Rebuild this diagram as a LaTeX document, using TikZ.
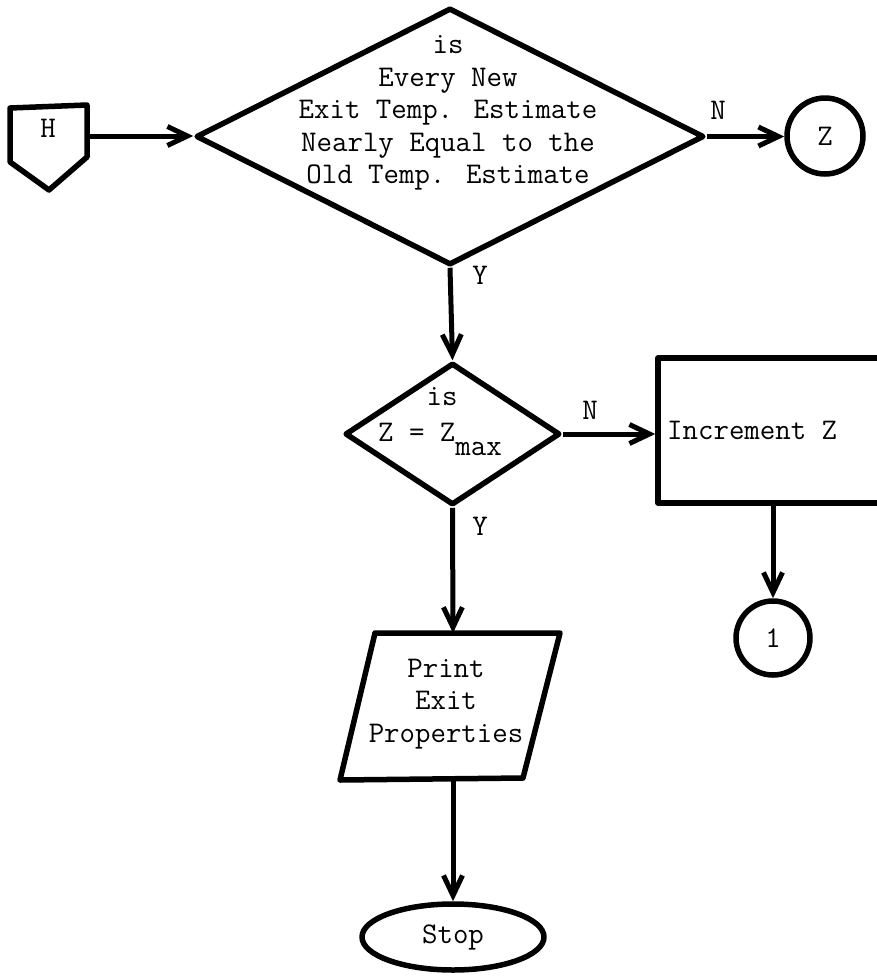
\documentclass[tikz,border=0pt]{standalone}
\usetikzlibrary{shapes.geometric,arrows.meta}
\tikzset{
  every node/.style={font=\ttfamily\fontsize{30}{32.5}\selectfont},
  shapeline/.style={draw, line width=5.5pt, inner sep=0pt},
  flow/.style={line width=5pt, -{Straight Barb[length=20pt,width=19pt]}},
  txt/.style={align=center, inner sep=0pt},
  lbl/.style={inner sep=0pt}
}
\begin{document}
\begin{tikzpicture}[x=1pt,y=-1pt, line join=round]
\useasboundingbox (0,0) rectangle (877,978);
\clip (0,0) rectangle (877,978);
\fill[white] (0,0) rectangle (877,978);

% off-page connector H
\draw[line width=5.5pt] (10,108) -- (87,105) -- (87,157) -- (49,190) -- (10,162) -- cycle;
\node[lbl] (h) at (48,128) {H};
\coordinate (hout) at (87,136);

% first decision
\node[shapeline, diamond, minimum width=508pt, minimum height=257pt] (d1) at (450,136.5) {};
\node[txt] (d1t) at (448,113) {is\\Every New\\Exit Temp. Estimate\\Nearly Equal to the\\Old Temp. Estimate};

% connector Z
\node[shapeline, circle, minimum size=76pt] (cz) at (825,136) {};
\node[lbl] at (cz) {Z};

% second decision
\node[shapeline, diamond, minimum width=215pt, minimum height=142pt] (d2) at (452.5,434) {};
\node[txt] (d2a) at (442,397) {is};
\node[lbl, anchor=base west] (d2b) at (378,441) {Z = Z\raisebox{-14pt}{max}};

% increment box (runs past the right edge)
\node[shapeline, rectangle, minimum width=300pt, minimum height=145pt] (inc) at (808,430.5) {};
\node[lbl, anchor=west] (inct) at (667,430) {Increment Z};
\coordinate (incb) at (773,503);

% connector 1
\node[shapeline, circle, minimum size=74pt] (c1) at (773,638) {};
\node[lbl] at (c1) {1};

% output parallelogram
\draw[line width=5.5pt] (375,633) -- (560,633) -- (523,778) -- (340,780) -- cycle;
\node[txt] (pt) at (446,704) {Print\\Exit\\Properties};
\coordinate (ptop) at (453,633);
\coordinate (pbot) at (453,779);

% terminal
\node[shapeline, ellipse, minimum width=182pt, minimum height=66pt] (stop) at (453,937) {};
\node[lbl] at (stop) {Stop};

% connectors
\draw[flow] (hout) -- (hout -| d1.west);
\draw[flow] (d1.east) -- (d1.east -| cz.west);
\draw[flow] (d1.south) -- (d2.north);
\draw[flow] (d2.east) -- (inc.west |- d2.east);
\draw[flow] (incb) -- (c1.north);
\draw[flow] (d2.south) -- (ptop);
\draw[flow] (pbot) -- (stop.north);

% branch labels
\node[lbl] (n1) at (718,110) {N};
\node[lbl] (n2) at (590,410) {N};
\node[lbl] (y1) at (480,275) {Y};
\node[lbl] (y2) at (480,526) {Y};
\end{tikzpicture}
\end{document}
